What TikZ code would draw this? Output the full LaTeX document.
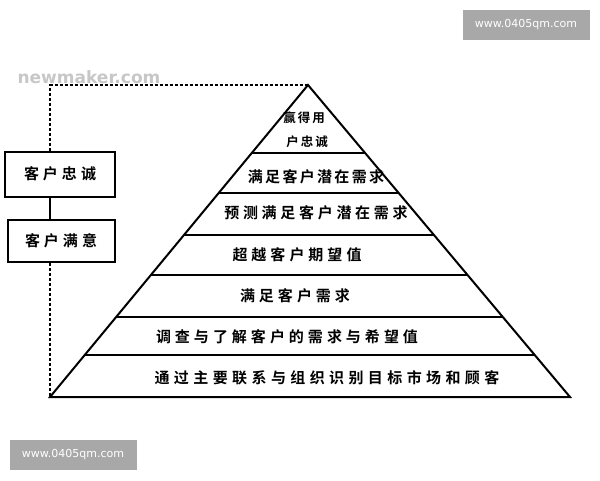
\documentclass[tikz,border=0pt]{standalone}
\usepackage{fontspec}
\newfontfamily\cjk{Noto Sans CJK SC}[BoldFont={Noto Sans CJK SC Bold}]
\newfontfamily\wmfont{DejaVu Sans}
\usetikzlibrary{calc}
\makeatletter
\newcommand\spaced[2]{\@tfor\ch:=#2\do{\ch\hskip#1}\unskip}
\makeatother

\begin{document}
\begin{tikzpicture}[x=1pt, y=-1pt,
  box/.style = {draw, line width=2pt, minimum width=108pt, minimum height=44pt, inner sep=0pt, font=\cjk\bfseries\fontsize{15}{18}\selectfont},
  tier/.style = {inner sep=0pt, font=\cjk\bfseries\fontsize{15}{18}\selectfont},
  wm/.style = {fill=black!34, text=white, minimum width=127pt, minimum height=30pt, font=\wmfont\fontsize{11}{13}\selectfont},
  link/.style = {line width=1.4pt, dash pattern=on 3pt off 2pt}]
\useasboundingbox (0,0) rectangle (600,480);
% pyramid
\coordinate (apex) at (308,85);
\coordinate (bl) at (50,397);
\coordinate (br) at (570,397);
\draw[line width=2pt] (bl) -- (apex) -- (br) -- cycle;
\foreach \h in {153,193,235,275,317,355}
  \draw[line width=1.7pt] ($(apex)!{(\h-85)/312}!(bl)$) -- ($(apex)!{(\h-85)/312}!(br)$);
\node[tier, font=\cjk\bfseries\fontsize{12.5}{14}\selectfont] (t1) at (304,118) {\spaced{2pt}{赢得用}};
\node[tier, font=\cjk\bfseries\fontsize{12.5}{14}\selectfont] (t1b) at (307,142) {\spaced{2pt}{户忠诚}};
\node[tier] (t2) at (316,177) {\spaced{2.3pt}{满足客户潜在需求}};
\node[tier] (t3) at (316,213) {\spaced{3.7pt}{预测满足客户潜在需求}};
\node[tier] (t4) at (297,255) {\spaced{4pt}{超越客户期望值}};
\node[tier] (t5) at (295,296) {\spaced{4pt}{满足客户需求}};
\node[tier] (t6) at (287,337) {\spaced{4pt}{调查与了解客户的需求与希望值}};
\node[tier] (t7) at (327,378) {\spaced{4.4pt}{通过主要联系与组织识别目标市场和顾客}};
% left side
\node[box, minimum width=110pt, minimum height=45pt] (kz) at (60,174) {\spaced{4pt}{客户忠诚}};
\node[box, minimum width=107pt, minimum height=42pt] (my) at (61,241) {\spaced{4pt}{客户满意}};
\coordinate (turn) at (50,85);
\draw[link] (kz.north -| turn) -- (turn) -- (apex);
\draw[line width=1.4pt] (kz.south -| turn) -- (my.north -| turn);
\draw[link] (my.south -| turn) -- (bl);
% watermarks
\node[wm] (wm1) at (526,25) {www.0405qm.com};
\node[wm] (wm2) at (73,455) {www.0405qm.com};
\node[text=black!22, font=\wmfont\bfseries\fontsize{17}{20}\selectfont] (nm) at (89,77) {newmaker.com};
\end{tikzpicture}
\end{document}
